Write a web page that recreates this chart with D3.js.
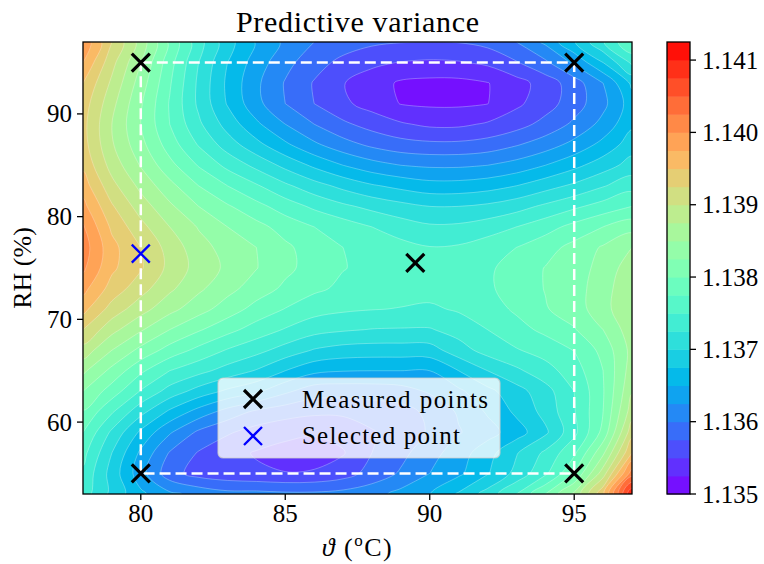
<!DOCTYPE html>
<html><head><meta charset="utf-8">
<script src="https://cdn.jsdelivr.net/npm/d3@7"></script>
<style>
body{margin:0;background:#fff;}
text{font-family:"Liberation Serif","Times New Roman",serif;fill:#000;}
</style>
</head><body>
<svg id="chart" width="764" height="564"></svg>
<script>
// ---------------- data ----------------
const thetaValues = [78,79,80,81,82,83,84,85,86,87,88,89,90,91,92,93,94,95,96,97];
const rhValues = [97,95,93,91,89,87,85,83,81,79,77,75,73,71,69,67,65,63,61,59,57,55,53];
const varianceRows = [
[1.13995,1.13925,1.13865,1.13795,1.13735,1.13685,1.13648,1.13620,1.13600,1.13588,1.13580,1.13576,1.13575,1.13576,1.13583,1.13600,1.13630,1.13673,1.13723,1.13775],
[1.13975,1.13908,1.13850,1.13785,1.13725,1.13675,1.13638,1.13608,1.13585,1.13568,1.13555,1.13549,1.13546,1.13548,1.13555,1.13573,1.13595,1.13630,1.13675,1.13730],
[1.13950,1.13895,1.13838,1.13778,1.13720,1.13670,1.13630,1.13598,1.13573,1.13551,1.13538,1.13521,1.13518,1.13518,1.13524,1.13540,1.13561,1.13588,1.13625,1.13680],
[1.13938,1.13883,1.13828,1.13773,1.13720,1.13673,1.13633,1.13600,1.13575,1.13555,1.13540,1.13524,1.13521,1.13521,1.135245,1.13545,1.13564,1.13588,1.13618,1.13663],
[1.13933,1.13875,1.13825,1.13775,1.13730,1.13690,1.13655,1.13625,1.13600,1.13580,1.13565,1.13553,1.13545,1.13545,1.13553,1.13565,1.13583,1.13605,1.13633,1.13670],
[1.13935,1.13878,1.13833,1.13788,1.13748,1.13713,1.13683,1.13655,1.13630,1.13610,1.13595,1.13585,1.13581,1.13581,1.13586,1.13598,1.13613,1.13633,1.13658,1.13688],
[1.13945,1.13890,1.13848,1.13808,1.13773,1.13743,1.13718,1.13693,1.13670,1.13650,1.13635,1.13625,1.13621,1.13621,1.13625,1.13635,1.13650,1.13668,1.13688,1.13710],
[1.13963,1.13908,1.13868,1.13833,1.13800,1.13775,1.13753,1.13730,1.13710,1.13693,1.13678,1.13668,1.13660,1.13660,1.13665,1.13675,1.13690,1.13705,1.13723,1.13740],
[1.13983,1.13928,1.13888,1.13855,1.13825,1.13803,1.13783,1.13763,1.13745,1.13730,1.13718,1.13708,1.13700,1.13700,1.13705,1.13715,1.13730,1.13745,1.13760,1.13775],
[1.14003,1.13945,1.13908,1.13875,1.13848,1.13825,1.13808,1.13790,1.13775,1.13763,1.13750,1.13738,1.13729,1.13730,1.13738,1.13750,1.13765,1.13783,1.13800,1.13815],
[1.14013,1.13958,1.13925,1.13890,1.13860,1.13840,1.13825,1.13805,1.13788,1.13775,1.13765,1.13758,1.13751,1.13753,1.13763,1.13775,1.13790,1.13808,1.13828,1.13850],
[1.14005,1.13955,1.13928,1.13893,1.13865,1.13845,1.13826,1.13806,1.13790,1.13776,1.13769,1.13764,1.13763,1.13765,1.13771,1.13785,1.13801,1.13814,1.13833,1.13865],
[1.13983,1.13940,1.13910,1.13880,1.13855,1.13833,1.13813,1.13795,1.13780,1.13770,1.13763,1.13759,1.13759,1.13764,1.13771,1.13786,1.13801,1.13815,1.13838,1.13873],
[1.13958,1.13915,1.13885,1.13858,1.13835,1.13813,1.13791,1.13774,1.13760,1.13754,1.13751,1.13749,1.13746,1.13753,1.13764,1.13779,1.13798,1.13813,1.13840,1.13875],
[1.13925,1.13883,1.13853,1.13825,1.13803,1.13783,1.13764,1.13748,1.13734,1.13728,1.13724,1.13723,1.13723,1.13735,1.13750,1.13766,1.13781,1.13798,1.13825,1.13865],
[1.13890,1.13850,1.13818,1.13790,1.13768,1.13748,1.13733,1.13715,1.13698,1.13690,1.13688,1.13688,1.13689,1.13714,1.13735,1.13748,1.13760,1.13776,1.13808,1.13858],
[1.13855,1.13818,1.13780,1.13750,1.13733,1.13715,1.13698,1.13675,1.13656,1.13651,1.13650,1.13650,1.13650,1.13675,1.13700,1.13720,1.13740,1.13763,1.13800,1.13863],
[1.13825,1.13788,1.13748,1.13715,1.13690,1.13670,1.13655,1.13630,1.13611,1.13610,1.13611,1.13615,1.13628,1.13645,1.13668,1.13690,1.13715,1.13750,1.13798,1.13873],
[1.13798,1.13753,1.13708,1.13670,1.13640,1.13615,1.13595,1.13585,1.13580,1.13580,1.13585,1.13590,1.13606,1.13628,1.13653,1.13680,1.13708,1.13748,1.13800,1.13888],
[1.13775,1.13720,1.13670,1.13628,1.13595,1.13578,1.13565,1.13558,1.13553,1.13558,1.13573,1.13585,1.13603,1.13623,1.13640,1.13663,1.13695,1.13743,1.13808,1.13915],
[1.13758,1.13700,1.13645,1.13598,1.13573,1.13558,1.13548,1.13540,1.13538,1.13548,1.13575,1.13593,1.13615,1.13638,1.13665,1.13698,1.13730,1.13770,1.13845,1.13950],
[1.13745,1.13690,1.13635,1.13585,1.13565,1.13558,1.13554,1.13551,1.13553,1.13563,1.13585,1.13603,1.13625,1.13645,1.13673,1.13708,1.13745,1.13800,1.13888,1.14013],
[1.13738,1.13693,1.13655,1.13630,1.13618,1.13608,1.13608,1.13605,1.13605,1.13609,1.13615,1.13633,1.13649,1.13678,1.13710,1.13750,1.13800,1.13855,1.13945,1.14100]
];
const contourLevels = [1.135,1.13525,1.1355,1.13575,1.136,1.13625,1.1365,1.13675,1.137,1.13725,1.1375,1.13775,1.138,1.13825,1.1385,1.13875,1.139,1.13925,1.1395,1.13975,1.14,1.14025,1.1405,1.14075,1.141,1.14125];
const colorbarTicks = [1.135,1.136,1.137,1.138,1.139,1.140,1.141];
const xTicks = [80,85,90,95];
const yTicks = [60,70,80,90];
const measuredTheta = [80,95,80,95,89.5];
const measuredRH    = [95,95,55,55,75.5];
const selectedTheta = [80];
const selectedRH    = [76.4];
const regionTheta = [80,95];
const regionRH    = [55,95];
const legendLabels = ["Measured points","Selected point"];

// ---------------- layout ----------------
const svg = d3.select("#chart");
const L=83, R=632, T=42, B=494;
const x = d3.scaleLinear().domain([78,97]).range([L,R]);
const y = d3.scaleLinear().domain([53,97]).range([B,T]);
const nx = thetaValues.length, ny = rhValues.length;
const gx = d3.scaleLinear().domain([0.5, nx-0.5]).range([x(thetaValues[0]), x(thetaValues[nx-1])]);
const gy = d3.scaleLinear().domain([0.5, ny-0.5]).range([y(rhValues[0]), y(rhValues[ny-1])]);

// matplotlib "rainbow" colormap
function rainbow(t){
  const c=v=>Math.max(0,Math.min(1,v));
  const r=c(Math.abs(2*t-0.5)), g=c(Math.sin(Math.PI*t)), b=c(Math.cos(Math.PI*t/2));
  return d3.rgb(Math.round(r*255),Math.round(g*255),Math.round(b*255)).toString();
}
const nb = contourLevels.length-1;
const bandColor = i => rainbow((i+0.5)/nb);

svg.append("defs").append("clipPath").attr("id","plotclip")
  .append("rect").attr("x",L).attr("y",T).attr("width",R-L).attr("height",B-T);

const flat = varianceRows.flat();
const contours = d3.contours().size([nx,ny]).thresholds(contourLevels.slice(0,-1))(flat);
const ringLine = d3.line().curve(d3.curveCatmullRomClosed.alpha(0.5));
function contourPath(mp){
  return mp.coordinates.map(poly => poly.map(ring =>
    ringLine(ring.slice(0,-1).map(p => [gx(p[0]), gy(p[1])]))).join("")).join("");
}

const g = svg.append("g").attr("clip-path","url(#plotclip)");
g.selectAll("path.band").data(contours).join("path").attr("class","band")
  .attr("d",contourPath).attr("fill-rule","evenodd")
  .attr("fill",(d,i)=>bandColor(i)).attr("stroke",(d,i)=>bandColor(i)).attr("stroke-width",0.5);
g.selectAll("path.iso").data(contours.slice(1)).join("path").attr("class","iso")
  .attr("d",contourPath).attr("fill","none").attr("stroke","rgba(255,255,255,0.35)").attr("stroke-width",0.8);

g.append("rect").attr("x",x(regionTheta[0])).attr("y",y(regionRH[1]))
  .attr("width",x(regionTheta[1])-x(regionTheta[0])).attr("height",y(regionRH[0])-y(regionRH[1]))
  .attr("fill","none").attr("stroke","#fff").attr("stroke-width",2.5).attr("stroke-dasharray","11,5");

function cross(sel, cx, cy, s, color, w){
  sel.append("path").attr("d",`M${cx-s},${cy-s}L${cx+s},${cy+s}M${cx-s},${cy+s}L${cx+s},${cy-s}`)
    .attr("stroke",color).attr("stroke-width",w).attr("fill","none");
}
measuredTheta.forEach((t,i)=>cross(svg, x(t), y(measuredRH[i]), 9, "#000", 3.2));
selectedTheta.forEach((t,i)=>cross(svg, x(t), y(selectedRH[i]), 9, "#0000ff", 2.3));

svg.append("rect").attr("x",L).attr("y",T).attr("width",R-L).attr("height",B-T)
  .attr("fill","none").attr("stroke","#000").attr("stroke-width",1.3);

const fs = 25;
xTicks.forEach(v=>{
  svg.append("line").attr("x1",x(v)).attr("x2",x(v)).attr("y1",B).attr("y2",B+6).attr("stroke","#000").attr("stroke-width",1.3);
  svg.append("text").attr("x",x(v)).attr("y",B+28).attr("text-anchor","middle").attr("font-size",fs).text(v);
});
yTicks.forEach(v=>{
  svg.append("line").attr("x1",L-6).attr("x2",L).attr("y1",y(v)).attr("y2",y(v)).attr("stroke","#000").attr("stroke-width",1.3);
  svg.append("text").attr("x",L-11).attr("y",y(v)).attr("dy","0.34em").attr("text-anchor","end").attr("font-size",fs).text(v);
});

svg.append("text").attr("x",(L+R)/2).attr("y",32).attr("text-anchor","middle").attr("font-size",30)
  .attr("textLength",243).attr("lengthAdjust","spacing").text("Predictive variance");
const xl = svg.append("text").attr("x",(L+R)/2).attr("y",556).attr("text-anchor","middle").attr("font-size",26).attr("letter-spacing",1.5);
xl.append("tspan").attr("font-style","italic").text("ϑ");
xl.append("tspan").text(" (");
xl.append("tspan").attr("font-size",17).attr("dy",-10).text("o");
xl.append("tspan").attr("dy",10).text("C)");
svg.append("text").attr("transform",`translate(31,${(T+B)/2}) rotate(-90)`).attr("text-anchor","middle").attr("font-size",26)
  .text("RH (%)");

const lg = svg.append("g");
lg.append("rect").attr("x",218).attr("y",378).attr("width",282).attr("height",80).attr("rx",5)
  .attr("fill","rgba(255,255,255,0.8)").attr("stroke","rgba(204,204,204,0.8)").attr("stroke-width",1.2);
cross(lg, 253, 399, 9, "#000", 3.2);
cross(lg, 253, 436, 9, "#0000ff", 2.3);
lg.append("text").attr("x",302).attr("y",408).attr("font-size",fs).attr("textLength",186).attr("lengthAdjust","spacing").text(legendLabels[0]);
lg.append("text").attr("x",302).attr("y",444).attr("font-size",fs).attr("textLength",158).attr("lengthAdjust","spacing").text(legendLabels[1]);

const CL=667, CR=690;
const cy = d3.scaleLinear().domain([contourLevels[0], contourLevels[nb]]).range([B,T]);
const cb = svg.append("g");
cb.selectAll("rect").data(d3.range(nb)).join("rect")
  .attr("x",CL).attr("width",CR-CL)
  .attr("y",i=>cy(contourLevels[i+1])).attr("height",i=>cy(contourLevels[i])-cy(contourLevels[i+1])+0.5)
  .attr("fill",i=>bandColor(i));
cb.append("rect").attr("x",CL).attr("y",T).attr("width",CR-CL).attr("height",B-T)
  .attr("fill","none").attr("stroke","#000").attr("stroke-width",1.3);
colorbarTicks.forEach(v=>{
  cb.append("line").attr("x1",CR).attr("x2",CR+6).attr("y1",cy(v)).attr("y2",cy(v)).attr("stroke","#000").attr("stroke-width",1.3);
  cb.append("text").attr("x",CR+12).attr("y",cy(v)).attr("dy","0.34em").attr("font-size",fs).text(v.toFixed(3));
});
</script>
</body></html>
